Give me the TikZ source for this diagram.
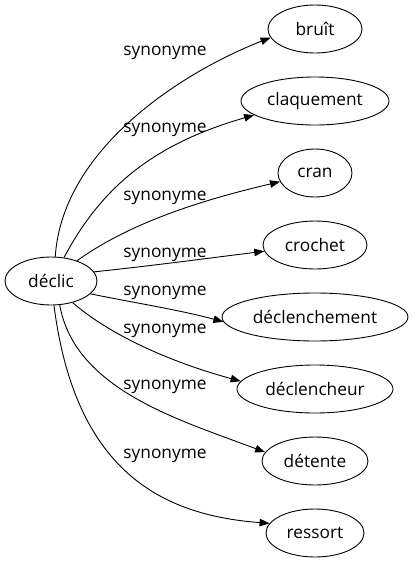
\documentclass[tikz,border=0pt]{standalone}
\usepackage{fontspec}
\setmainfont{Open Sans}
\usetikzlibrary{shapes.geometric,arrows.meta}
\tikzset{
  word/.style={draw, ellipse, line width=0.9pt, inner sep=0pt, minimum height=48pt, font=\fontsize{17.3pt}{20pt}\selectfont},
  rel/.style={font=\fontsize{17.3pt}{20pt}\selectfont, inner sep=0pt},
  link/.style={line width=0.9pt, -{Triangle[length=10pt,width=7.5pt]}}
}
\begin{document}
\begin{tikzpicture}[x=1pt,y=-1pt]
\useasboundingbox (0,0) rectangle (414,563);
\node[word, minimum width=92pt] (d) at (51,281) {déclic};
\node[word, minimum width=94pt] (b1) at (315,29) {bruît};
\node[word, minimum width=148pt] (b2) at (315,101) {claquement};
\node[word, minimum width=74pt] (b3) at (315,173) {cran};
\node[word, minimum width=104pt] (b4) at (315,245) {crochet};
\node[word, minimum width=186pt] (b5) at (315,317) {déclenchement};
\node[word, minimum width=156pt] (b6) at (315,389) {déclencheur};
\node[word, minimum width=106pt] (b7) at (315,461) {détente};
\node[word, minimum width=98pt] (b8) at (315,533) {ressort};

\draw[link] (d.80) .. controls (62,150) and (180,73) .. (b1.191);
\draw[link] (d.61) .. controls (100,190) and (150,145) .. (b2.193);
\draw[link] (d.38) .. controls (120,230) and (180,205) .. (b3.194);
\draw[link] (d.12) .. controls (150,266) and (210,258) .. (b4.187);
\draw[link] (d.-18) .. controls (130,302) and (180,310) .. (b5.183);
\draw[link] (d.-45) .. controls (110,335) and (170,362) .. (b6.174);
\draw[link] (d.-70) .. controls (75,390) and (180,420) .. (b7.170);
\draw[link] (d.-83) .. controls (75,470) and (160,515) .. (b8.168);

\node[rel] (l1) at (165,53) {synonyme};
\node[rel] (l2) at (165,130) {synonyme};
\node[rel] (l3) at (165,198) {synonyme};
\node[rel] (l4) at (165,255) {synonyme};
\node[rel] (l5) at (165,293) {synonyme};
\node[rel] (l6) at (165,331) {synonyme};
\node[rel] (l7) at (165,387) {synonyme};
\node[rel] (l8) at (165,456) {synonyme};
\end{tikzpicture}
\end{document}
